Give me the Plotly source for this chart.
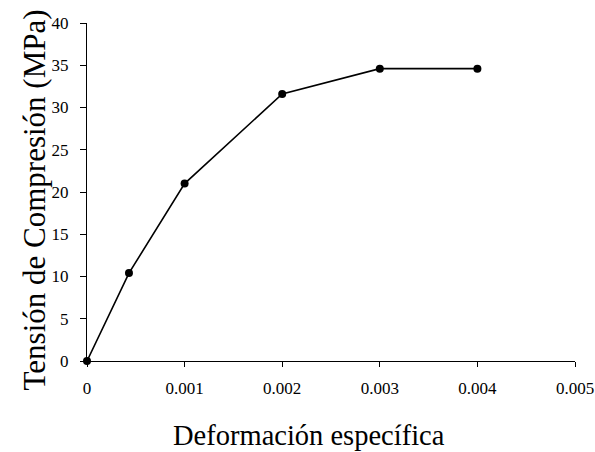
import plotly.graph_objects as go

strain = [0, 0.00043, 0.001, 0.002, 0.003, 0.004]
stress = [0, 10.4, 21.0, 31.6, 34.6, 34.6]
x_ticks = [0, 0.001, 0.002, 0.003, 0.004, 0.005]
x_tick_labels = ["0", "0.001", "0.002", "0.003", "0.004", "0.005"]
y_ticks = [0, 5, 10, 15, 20, 25, 30, 35, 40]
x_title = "Deformación específica"
y_title = "Tensión de Compresión (MPa)"

font = "Liberation Serif, Times New Roman, serif"

fig = go.Figure(go.Scatter(
    x=strain, y=stress, mode="lines+markers",
    line=dict(color="black", width=1.6),
    marker=dict(color="black", size=8),
    cliponaxis=False,
))

fig.update_layout(
    width=595, height=452,
    margin=dict(l=87, r=20, t=23, b=91),
    paper_bgcolor="white", plot_bgcolor="white",
    showlegend=False,
    font=dict(family=font, color="black", size=17),
    xaxis=dict(
        range=[0, 0.005], tickvals=x_ticks, ticktext=x_tick_labels,
        automargin=False, ticklabeloverflow="allow",
        showgrid=False, zeroline=False, showline=True, linecolor="black", linewidth=1,
        ticks="outside", ticklen=5, tickcolor="black", ticklabelstandoff=7,
        tickfont=dict(size=17),
    ),
    yaxis=dict(
        range=[0, 40], tickvals=y_ticks,
        automargin=False,
        showgrid=False, zeroline=False, showline=True, linecolor="black", linewidth=1,
        ticks="outside", ticklen=6, tickcolor="black", ticklabelstandoff=8,
        tickfont=dict(size=17),
    ),
    annotations=[
        dict(text=x_title, xref="paper", yref="paper", x=0.455, y=-0.22,
             xanchor="center", yanchor="middle", showarrow=False,
             font=dict(size=28.5)),
        dict(text=y_title, xref="paper", yref="paper", x=-0.108, y=0.476,
             xanchor="center", yanchor="middle", showarrow=False, textangle=-90,
             font=dict(size=31)),
    ],
)

# remove the default 8px page margin so the figure fills the window exactly
fig.write_html(
    "out.html",
    config={"displayModeBar": False},
    post_script="document.body.style.margin='0';document.body.style.overflow='hidden';",
)
